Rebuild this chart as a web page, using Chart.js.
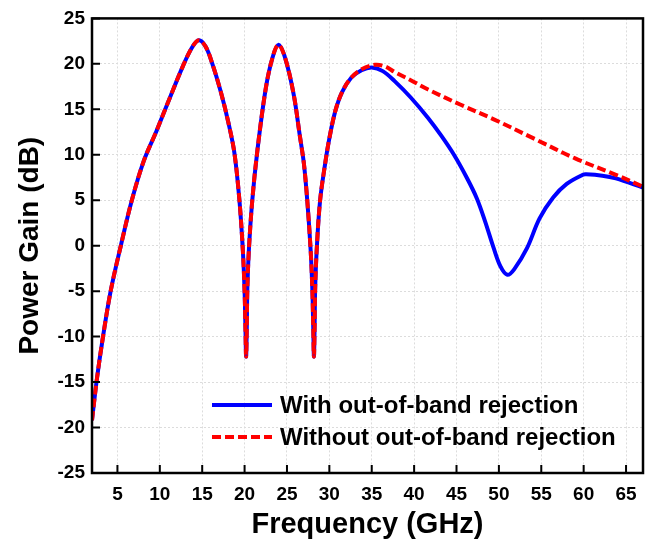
<!DOCTYPE html>
<html>
<head>
<meta charset="utf-8">
<script src="https://cdn.jsdelivr.net/npm/chart.js@4/dist/chart.umd.min.js"></script>
<style>
html,body{margin:0;padding:0;background:#fff;}
#wrap{width:647px;height:550px;}
</style>
</head>
<body>
<div id="wrap"><canvas id="chart-gain" width="647" height="550"></canvas></div>
<script>
// both curves lie on top of each other below ~33 GHz
const freqShared = [2.0, 2.6, 3.3, 4.2, 5.4, 6.7, 8.1, 9.6, 11.2, 12.7, 13.8, 14.6, 15.4, 16.2, 17.2, 18.1, 18.8, 19.4, 19.8, 20.0, 20.1, 20.18, 20.26, 20.32, 20.5, 20.9, 21.5, 22.5, 23.3, 24.0, 24.8, 25.8, 26.5, 27.0, 27.4, 27.8, 28.0, 28.1, 28.18, 28.26, 28.32, 28.5, 28.9, 29.5, 30.0, 30.7, 31.5, 32.6]
const gainShared = [-19.2, -14.5, -10.0, -5.0, 0.0, 5.0, 9.3, 12.6, 16.3, 19.7, 21.8, 22.6, 21.9, 20.0, 16.9, 13.5, 10.2, 4.9, -0.6, -5.0, -9.0, -12.2, -9.0, -5.0, -0.6, 4.9, 10.4, 17.3, 20.7, 22.1, 20.6, 16.6, 12.2, 9.0, 4.9, -0.6, -5.0, -9.0, -12.2, -9.0, -5.0, -0.6, 4.9, 9.0, 11.8, 14.8, 16.9, 18.5]

const freqWith = [33.8, 35.0, 36.3, 37.7, 39.6, 41.6, 43.2, 44.7, 46.2, 47.4, 48.4, 49.4, 50.2, 51.0, 51.8, 53.3, 54.8, 56.4, 58.0, 59.9, 60.3, 62.2, 63.8, 67.0]
const gainWith = [19.3, 19.6, 19.2, 18.1, 16.3, 14.1, 12.1, 10.0, 7.5, 5.2, 2.6, -0.3, -2.3, -3.2, -2.6, -0.3, 3.0, 5.3, 6.8, 7.8, 7.85, 7.7, 7.4, 6.4]

const freqWithout = [33.8, 35.4, 36.6, 37.7, 39.6, 41.6, 45.5, 49.4, 54.1, 59.0, 63.8, 67.0]
const gainWithout = [19.4, 19.9, 19.7, 19.1, 18.2, 17.2, 15.5, 13.9, 11.8, 9.6, 7.8, 6.5]

const xTicks = [5, 10, 15, 20, 25, 30, 35, 40, 45, 50, 55, 60, 65]
const yTicks = [-25, -20, -15, -10, -5, 0, 5, 10, 15, 20, 25]

const toPoints = (fx, gy) => fx.map((f, i) => ({x: f, y: gy[i]}))

const FONT = 'Arial, "Liberation Sans", sans-serif'

// frame + inward ticks
const frame = {
  id: 'frame',
  afterDraw(chart) {
    const ctx = chart.ctx
    const a = chart.chartArea
    const sx = chart.scales.x, sy = chart.scales.y
    ctx.save()
    ctx.strokeStyle = '#000'
    ctx.lineWidth = 2.5
    ctx.strokeRect(a.left, a.top, a.right - a.left, a.bottom - a.top)
    ctx.lineWidth = 2
    ctx.beginPath()
    xTicks.forEach(v => {
      const px = sx.getPixelForValue(v)
      ctx.moveTo(px, a.bottom); ctx.lineTo(px, a.bottom - 8)
    })
    yTicks.forEach(v => {
      const py = sy.getPixelForValue(v)
      ctx.moveTo(a.left, py); ctx.lineTo(a.left + 8, py)
    })
    ctx.stroke()
    ctx.restore()
  }
}

// legend drawn inside the plot, lower right
const legendInside = {
  id: 'legendInside',
  afterDraw(chart) {
    const ctx = chart.ctx
    const a = chart.chartArea
    ctx.save()
    ctx.font = 'bold 24px ' + FONT
    ctx.textBaseline = 'middle'
    ctx.fillStyle = '#000'
    chart.data.datasets.forEach((ds, i) => {
      const y = a.bottom - 68 + i * 32
      ctx.beginPath()
      ctx.strokeStyle = ds.borderColor
      ctx.lineWidth = ds.borderWidth
      ctx.setLineDash(ds.borderDash || [])
      ctx.moveTo(a.left + 120, y); ctx.lineTo(a.left + 180, y)
      ctx.stroke()
      ctx.setLineDash([])
      ctx.fillText(ds.label, a.left + 188, y + 1)
    })
    ctx.restore()
  }
}

const ctx = document.getElementById('chart-gain').getContext('2d')

new Chart(ctx, {
  type: 'line',
  data: {
    datasets: [{
      label: 'With out-of-band rejection',
      data: toPoints(freqShared.concat(freqWith), gainShared.concat(gainWith)),
      borderColor: '#0000ff',
      borderWidth: 4,
      pointRadius: 0,
      tension: 0.35,
      order: 1
    }, {
      label: 'Without out-of-band rejection',
      data: toPoints(freqShared.concat(freqWithout), gainShared.concat(gainWithout)),
      borderColor: '#ff0000',
      borderWidth: 4,
      borderDash: [9, 4],
      pointRadius: 0,
      tension: 0.35,
      order: 0
    }]
  },
  options: {
    responsive: false,
    animation: false,
    devicePixelRatio: 1,
    layout: {padding: {top: 15, right: 4, left: 0, bottom: 0}},
    plugins: {legend: {display: false}, tooltip: {enabled: false}},
    scales: {
      x: {
        type: 'linear',
        min: 2,
        max: 67,
        afterBuildTicks: s => { s.ticks = xTicks.map(v => ({value: v})) },
        afterFit: s => { s.height = 77 },
        ticks: {color: '#000', padding: 10, maxRotation: 0, autoSkip: false, font: {family: FONT, size: 19, weight: 'bold'}},
        grid: {color: '#dcdcdc', lineWidth: 1, drawTicks: false},
        border: {display: false, dash: [2, 2]},
        title: {display: true, text: 'Frequency (GHz)', color: '#000', font: {family: FONT, size: 29, weight: 'bold'}, padding: {top: 8, bottom: 8}}
      },
      y: {
        min: -25,
        max: 25,
        afterBuildTicks: s => { s.ticks = yTicks.map(v => ({value: v})) },
        afterFit: s => { s.width = 92 },
        ticks: {color: '#000', padding: 7, font: {family: FONT, size: 19, weight: 'bold'}},
        grid: {color: '#dcdcdc', lineWidth: 1, drawTicks: false},
        border: {display: false, dash: [2, 2]},
        title: {display: true, text: 'Power Gain (dB)', color: '#000', font: {family: FONT, size: 28, weight: 'bold'}, padding: {top: 13, bottom: 0}}
      }
    }
  },
  plugins: [frame, legendInside]
})
</script>
</body>
</html>
